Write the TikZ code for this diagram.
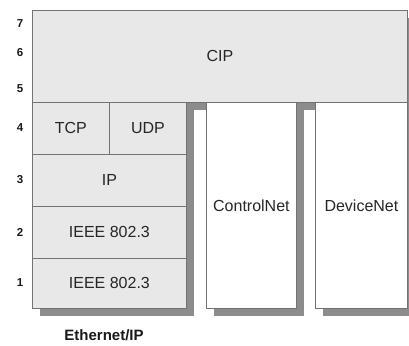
\documentclass[tikz,border=0pt]{standalone}
\usepackage{fontspec}
\setmainfont{Liberation Sans}
\usetikzlibrary{shadows}
\begin{document}
\begin{tikzpicture}[x=1pt,y=-1pt,
  layer/.style={draw=black!55, line width=0.8pt, fill=gray!18,
    font=\fontsize{16}{18}\selectfont, text=black!85, inner sep=0pt,
    anchor=north west,
    drop shadow={shadow xshift=8pt, shadow yshift=-8pt, fill=black!45, opacity=1}},
  net/.style={layer, fill=white},
  num/.style={font=\bfseries\fontsize{11.5}{13}\selectfont, text=black!90},
]
\useasboundingbox (0,0) rectangle (409,345);

% application layer spanning all three networks
\node[layer, minimum width=375pt, minimum height=92pt] (cip) at (32,10) {};
\node[font=\fontsize{16}{18}\selectfont, text=black!85] (ciplabel) at (cip.center) {CIP};

% Ethernet/IP stack
\node[layer, minimum width=77pt, minimum height=52pt] (tcp) at (32,102) {TCP};
\node[layer, minimum width=77pt, minimum height=52pt] (udp) at (109,102) {UDP};
\node[layer, minimum width=154pt, minimum height=52pt] (ip) at (32,154) {IP};
\node[layer, minimum width=154pt, minimum height=52pt] (mac) at (32,206) {IEEE 802.3};
\node[layer, minimum width=154pt, minimum height=50pt] (phy) at (32,258) {IEEE 802.3};

% other networks
\node[net, minimum width=90pt, minimum height=206pt] (cnet) at (206,102) {ControlNet};
\node[net, minimum width=92pt, minimum height=206pt] (dnet) at (315,102) {DeviceNet};

% OSI layer numbers
\node[num] (n7) at (20,24) {7};
\node[num] (n6) at (20,53) {6};
\node[num] (n5) at (20,89) {5};
\node[num] (n4) at (20,128) {4};
\node[num] (n3) at (20,180) {3};
\node[num] (n2) at (20,232) {2};
\node[num] (n1) at (20,283) {1};

\node[font=\bfseries\fontsize{15}{17}\selectfont, text=black!90] (eth) at (104,335) {Ethernet/IP};
\end{tikzpicture}
\end{document}
